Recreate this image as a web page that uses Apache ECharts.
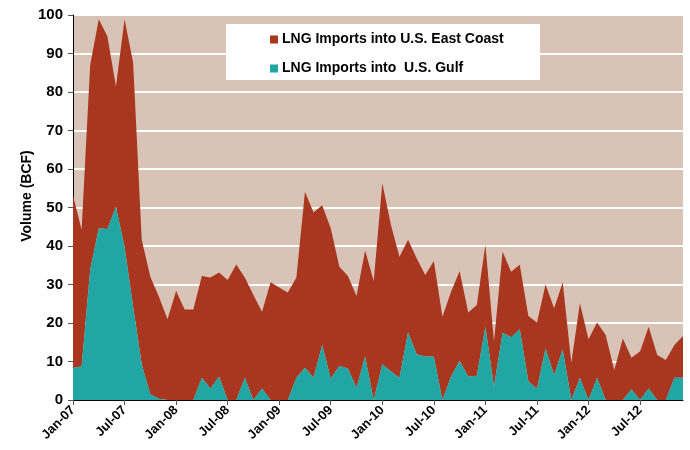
<!DOCTYPE html>
<html>
<head>
<meta charset="utf-8">
<script src="https://cdn.jsdelivr.net/npm/echarts@6/dist/echarts.min.js"></script>
<style>
html,body{margin:0;padding:0;background:#fff;}
#c{width:690px;height:450px;}
</style>
</head>
<body>
<div id="c"></div>
<script>
var months = [];
var monthNames = ['Jan','Feb','Mar','Apr','May','Jun','Jul','Aug','Sep','Oct','Nov','Dec'];
var years = ['07','08','09','10','11','12'];
for (var y = 0; y < years.length; y++) {
  for (var m = 0; m < 12; m++) months.push(monthNames[m] + '-' + years[y]);
}

var gulf = [
  8.4, 8.7, 33.8, 44.6, 44.4, 50.2, 39.8, 24.2, 9.3, 1.5, 0.3, 0,
  0, 0, 0, 5.8, 3.0, 6.1, 0, 0, 5.8, 0, 3.0, 0,
  0, 0, 5.8, 8.4, 5.8, 14.3, 5.6, 8.8, 8.2, 3.2, 11.3, 0,
  9.3, 7.5, 5.8, 17.6, 11.9, 11.3, 11.3, 0, 6.1, 10.1, 6.1, 6.3,
  19.0, 3.5, 17.5, 16.3, 18.4, 4.9, 2.9, 13.4, 6.5, 13.2, 0, 5.8,
  0, 5.8, 0, 0, 0, 2.8, 0, 3.0, 0, 0, 5.8, 5.8
];

var eastCoast = [
  44.8, 35.5, 53.2, 54.3, 50.1, 31.2, 59.1, 63.4, 32.3, 30.5, 26.5, 21.0,
  28.3, 23.5, 23.5, 26.4, 28.8, 27.0, 31.2, 35.2, 26.0, 27.3, 19.9, 30.6,
  29.2, 27.9, 26.0, 45.7, 42.9, 36.3, 39.0, 25.8, 24.0, 23.8, 27.5, 30.9,
  47.0, 38.0, 31.4, 24.0, 24.9, 21.2, 24.8, 21.6, 22.0, 23.4, 16.6, 18.4,
  21.3, 11.7, 21.0, 17.0, 16.7, 16.9, 17.2, 16.6, 17.3, 17.3, 9.7, 19.3,
  15.8, 14.3, 16.9, 7.8, 16.0, 8.2, 12.6, 16.0, 11.7, 10.4, 8.5, 10.8
];

var yTicks = [0, 10, 20, 30, 40, 50, 60, 70, 80, 90, 100];

var seriesNames = ['LNG Imports into U.S. East Coast', 'LNG Imports into  U.S. Gulf'];
var yTitle = 'Volume (BCF)';
var colors = { east: '#A9361F', gulf: '#22A6A4' };

var chart = echarts.init(document.getElementById('c'), null, { renderer: 'canvas' });
var FONT = 'Liberation Sans, Arial, sans-serif';

chart.setOption({
  animation: false,
  textStyle: { fontFamily: FONT },
  grid: {
    left: 73, right: 7, top: 15, bottom: 50,
    show: true, backgroundColor: '#D9C3B7', borderWidth: 0
  },
  graphic: [{
    type: 'rect',
    shape: { x: 226, y: 24, width: 314, height: 56 },
    style: { fill: '#ffffff' },
    z: 10
  }, {
    type: 'text',
    x: 27, y: 196,
    rotation: Math.PI / 2,
    style: {
      text: yTitle, fontFamily: FONT, fontWeight: 'bold', fontSize: 14,
      fill: '#000', align: 'center', verticalAlign: 'middle'
    },
    z: 10
  }],
  legend: {
    left: 265, top: 27,
    orient: 'vertical',
    itemGap: 14,
    itemWidth: 8, itemHeight: 8,
    icon: 'rect',
    z: 11,
    data: [seriesNames[0], seriesNames[1]],
    textStyle: { fontFamily: FONT, fontWeight: 'bold', fontSize: 14, color: '#000', padding: [0, 0, 0, -1], lineHeight: 15 }
  },
  xAxis: {
    type: 'category',
    boundaryGap: false,
    data: months,
    axisLine: { lineStyle: { color: '#000', width: 1 } },
    axisTick: { show: true, interval: 5, length: 5, lineStyle: { color: '#555' } },
    axisLabel: {
      interval: 5, rotate: 45, margin: 8,
      fontFamily: FONT, fontWeight: 'bold', fontSize: 13, color: '#000'
    },
    splitLine: { show: false }
  },
  yAxis: {
    type: 'value',
    min: yTicks[0], max: yTicks[yTicks.length - 1], interval: 10,
    axisLine: { show: true, lineStyle: { color: '#000', width: 1 } },
    axisTick: { show: true, length: 5, lineStyle: { color: '#555' } },
    axisLabel: { fontFamily: FONT, fontWeight: 'bold', fontSize: 15, color: '#000', margin: 10 },
    splitLine: { show: true, lineStyle: { color: '#ffffff', width: 2 } }
  },
  series: [
    {
      name: seriesNames[1],
      type: 'line',
      stack: 'total',
      data: gulf,
      symbol: 'none',
      lineStyle: { width: 0 },
      itemStyle: { color: colors.gulf },
      areaStyle: { color: colors.gulf, opacity: 1 },
      z: 3
    },
    {
      name: seriesNames[0],
      type: 'line',
      stack: 'total',
      data: eastCoast,
      symbol: 'none',
      lineStyle: { width: 0 },
      itemStyle: { color: colors.east },
      areaStyle: { color: colors.east, opacity: 1 },
      z: 2
    }
  ]
});
</script>
</body>
</html>
